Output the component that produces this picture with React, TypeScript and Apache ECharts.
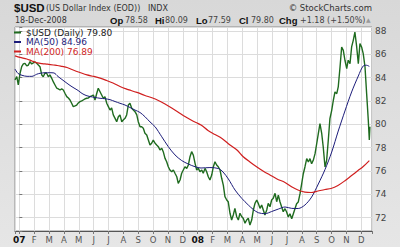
import { useEffect, useRef } from "react";
import * as echarts from "echarts";

// x = months since 1 Jan 2007 (fractional), y = index value
const priceT = [-0.29,-0.17,-0.07,0.05,0.16,0.27,0.38,0.50,0.61,0.72,0.83,0.94,1.06,1.17,1.28,1.39,1.51,1.61,1.73,1.84,1.95,2.06,2.18,2.29,2.40,2.52,2.62,2.74,2.85,2.96,3.07,3.19,3.30,3.41,3.52,3.63,3.75,3.86,3.97,4.08,4.20,4.30,4.42,4.53,4.64,4.75,4.87,4.98,5.09,5.21,5.31,5.43,5.54,5.65,5.76,5.88,5.99,6.10,6.21,6.32,6.44,6.55,6.66,6.77,6.89,6.99,7.11,7.22,7.33,7.44,7.56,7.67,7.78,7.90,8.00,8.12,8.23,8.34,8.45,8.57,8.68,8.79,8.90,9.01,9.13,9.24,9.35,9.46,9.58,9.68,9.80,9.91,10.02,10.13,10.25,10.36,10.47,10.59,10.69,10.81,10.92,11.03,11.14,11.26,11.37,11.48,11.59,11.70,11.82,11.93,12.04,12.15,12.27,12.37,12.49,12.60,12.71,12.82,12.94,13.05,13.16,13.27,13.38,13.50,13.61,13.72,13.83,13.95,14.05,14.17,14.28,14.39,14.50,14.62,14.73,14.84,14.96,15.06,15.18,15.29,15.40,15.51,15.63,15.74,15.85,15.97,16.07,16.19,16.30,16.41,16.52,16.64,16.74,16.86,16.97,17.08,17.20,17.31,17.42,17.53,17.64,17.75,17.87,17.98,18.09,18.20,18.32,18.43,18.54,18.65,18.76,18.88,18.99,19.10,19.21,19.33,19.44,19.55,19.66,19.77,19.89,20.00,20.11,20.22,20.34,20.44,20.56,20.67,20.78,20.89,21.01,21.12,21.23,21.35,21.45,21.57,21.68,21.79,21.90,22.02,22.12,22.24,22.35,22.46,22.57,22.69,22.80,22.91,23.02,23.13,23.25,23.36,23.47,23.54,23.58];
const priceV = [83.80,84.08,83.37,84.37,84.94,85.17,85.23,85.00,85.08,85.37,
85.17,85.26,85.34,85.23,85.08,84.94,84.23,84.08,84.40,84.37,
84.08,84.23,83.94,83.63,83.37,83.09,83.03,82.94,83.03,82.94,
82.66,82.37,82.25,82.08,81.80,81.51,81.57,81.65,81.83,81.94,
82.00,82.08,82.17,82.23,82.25,82.37,82.43,82.51,82.08,82.66,
83.09,82.79,82.51,82.23,82.37,
81.80,81.51,81.22,81.40,80.80,80.51,80.22,80.65,80.80,80.22,
80.37,80.51,80.80,81.65,81.80,81.37,81.22,81.08,80.80,80.22,
79.79,79.79,79.66,79.23,79.08,78.65,78.22,78.37,78.65,78.37,
78.22,78.08,77.79,77.94,77.65,77.08,76.79,76.36,76.08,75.93,
76.08,75.80,75.50,74.94,75.22,75.80,76.08,76.36,76.22,76.51,
77.22,77.65,77.37,76.65,76.08,76.22,75.93,76.08,75.80,76.22,
75.93,75.50,75.22,75.65,76.36,76.79,76.51,76.36,76.08,75.37,
74.79,73.79,73.51,73.36,72.37,71.79,72.22,72.79,72.07,71.79,
72.37,72.07,71.94,71.51,71.79,71.94,71.36,71.79,72.65,73.22,
73.51,73.22,72.79,73.08,72.65,72.22,72.65,73.22,72.93,73.51,
73.65,74.08,73.36,73.93,73.36,72.93,72.50,72.76,72.48,72.05,
72.33,71.90,72.33,72.76,73.19,73.33,74.05,74.90,75.76,76.34,
77.05,76.77,77.05,76.62,76.91,77.48,78.33,79.19,80.05,79.19,
78.05,76.34,76.91,78.63,80.48,81.20,82.06,82.77,82.62,83.20,
84.91,86.63,86.34,85.49,84.77,85.49,85.20,86.63,87.20,87.91,
86.63,85.20,86.91,86.63,86.05,84.91,82.62,80.37,78.65,79.80];

const ma50T = [-0.29,-0.09,0.18,0.52,0.85,1.17,1.39,1.73,2.06,2.33,2.60,2.87,3.14,3.41,3.68,3.95,4.22,4.49,4.75,5.09,5.43,5.76,6.10,6.44,6.77,7.11,7.44,7.78,8.12,8.45,8.79,9.13,9.58,10.02,10.47,10.92,11.37,11.82,12.22,12.82,13.38,13.70,14.06,14.51,14.96,15.40,15.74,16.07,16.52,16.97,17.42,17.87,18.32,18.76,19.21,19.66,20.11,20.56,21.01,21.45,21.90,22.35,22.80,23.13,23.36,23.54];
const ma50V = [84.74,84.36,84.20,84.11,84.11,84.29,84.37,84.42,84.42,84.40,84.10,83.84,83.58,83.33,83.11,82.90,82.64,82.47,82.38,82.30,82.23,82.19,82.11,81.95,81.80,81.65,81.44,81.22,81.01,80.65,80.20,79.79,78.93,78.08,77.37,76.89,76.59,76.36,76.25,76.29,76.21,75.91,75.31,74.36,73.65,73.08,72.69,72.42,72.33,72.52,72.73,72.91,72.79,72.78,73.08,73.76,74.88,76.12,77.62,79.42,81.14,82.77,84.14,85.00,85.06,84.96];

const ma200T = [-0.29,0.05,0.50,0.85,1.21,1.53,1.88,2.29,2.56,2.87,3.21,3.54,4.08,4.55,5.02,5.49,5.88,6.30,6.77,7.18,7.51,7.91,8.45,8.92,9.35,9.80,10.25,10.67,11.14,11.55,11.88,12.22,12.69,13.16,13.63,14.17,14.64,15.04,15.51,15.98,16.39,16.86,17.33,17.87,18.34,18.74,19.21,19.62,20.09,20.56,20.96,21.43,21.90,22.35,22.80,23.13,23.54];
const ma200V = [85.86,85.73,85.60,85.43,85.27,85.20,85.15,85.08,85.04,84.96,84.87,84.70,84.44,84.23,84.10,83.93,83.75,83.54,83.24,83.03,82.90,82.73,82.47,82.27,82.04,81.74,81.40,81.06,80.67,80.37,80.15,79.94,79.47,79.12,78.78,78.22,77.79,77.24,76.77,76.34,76.00,75.65,75.31,75.01,74.62,74.36,74.19,74.15,74.28,74.41,74.49,74.75,75.16,75.61,76.05,76.38,76.89];

const monthLabels = ["07","F","M","A","M","J","J","A","S","O","N","D","08","F","M","A","M","J","J","A","S","O","N","D"];
const yearLabelIdx = [0, 12];

const seriesNames = ["$USD (Daily)", "MA(50)", "MA(200)"];
const lastValues = ["79.80", "84.96", "76.89"];
const seriesColors = ["#1f6b1f", "#1c1c7a", "#d01f1f"];

const titleMain = "$USD";
const titleDesc = "(US Dollar Index (EOD))";
const titleExch = "INDX";
const dateText = "18-Dec-2008";
const quoteLabels = ["Op", "Hi", "Lo", "Cl", "Chg"];
const quoteValues = ["78.58", "80.09", "77.59", "79.80", "+1.18 (+1.50%)"];
const credit = "\u00A9 StockCharts.com";

const FONT = "DejaVu Sans";

function isNear(v: number, n: number) {
  return Math.abs(v - n) < 1e-6;
}

export default function App() {
  const ref = useRef<HTMLDivElement>(null);
  useEffect(() => {
    const chart = echarts.init(ref.current!, null, { renderer: "svg" });
    const labelX = [110, 155, 196, 239, 279];
    const valueX = [125, 165, 208, 251, 300];
    const quoteGraphics: any[] = [];
    quoteLabels.forEach((l, i) => {
      quoteGraphics.push({
        type: "text", x: labelX[i], y: 20,
        style: { text: l, fontFamily: "Liberation Sans", fontSize: 9.5, fontWeight: "bold", fill: "#111", verticalAlign: "middle" },
      });
      quoteGraphics.push({
        type: "text", x: valueX[i], y: 20,
        style: { text: quoteValues[i], fontFamily: FONT, fontSize: 8, fill: "#444", verticalAlign: "middle" },
      });
    });
    const option: any = {
      animation: false,
      backgroundColor: new echarts.graphic.LinearGradient(0, 0, 0, 1, [
        { offset: 0, color: "#d8d8d8" },
        { offset: 1, color: "#e6e6e6" },
      ]),
      grid: {
        left: 15, right: 28, top: 27, bottom: 16,
        show: true, backgroundColor: "#ffffff", borderColor: "#8c8c8c", borderWidth: 1,
      },
      legend: {
        orient: "vertical", left: 14, top: 28, padding: 0, itemGap: 0.5,
        itemWidth: 7, itemHeight: 2, icon: "rect",
        textStyle: { fontFamily: FONT, fontSize: 9, lineHeight: 9 },
        data: seriesNames.map((n, i) => ({ name: n, textStyle: { color: i === 0 ? "#222" : seriesColors[i] } })),
        formatter: (name: string) => name + " " + lastValues[seriesNames.indexOf(name)],
      },
      xAxis: {
        type: "value", min: -0.29, max: 23.72, splitNumber: 24, minInterval: 1, maxInterval: 1,
        axisLine: { show: true, lineStyle: { color: "#555", width: 1 } },
        axisTick: { show: true, length: 3, lineStyle: { color: "#777" } },
        splitLine: { show: true, lineStyle: { color: "#dcdcdc", width: 1 } },
        axisLabel: {
          margin: 4, fontFamily: FONT, fontSize: 8.5, color: "#555",
          formatter: (v: number) => {
            const r = Math.round(v);
            if (!isNear(v, r) || r < 0 || r >= monthLabels.length) return "";
            return yearLabelIdx.includes(r) ? "{y|" + monthLabels[r] + "}" : monthLabels[r];
          },
          rich: { y: { fontFamily: FONT, fontSize: 9, fontWeight: "bold", color: "#111" } },
        },
      },
      yAxis: {
        type: "value", position: "right", min: 70.85, max: 88.34, splitNumber: 9, minInterval: 2, maxInterval: 2,
        axisLine: { show: false },
        axisTick: { show: true, length: 3, lineStyle: { color: "#777" } },
        splitLine: { show: true, lineStyle: { color: "#dcdcdc", width: 1 } },
        axisLabel: {
          margin: 3, fontFamily: FONT, fontSize: 9, color: "#444",
          formatter: (v: number) => {
            const r = Math.round(v);
            return isNear(v, r) && r % 2 === 0 ? String(r) : "";
          },
        },
      },
      series: [
        {
          type: "line", name: seriesNames[0], showSymbol: false, symbol: "none", z: 3,
          data: priceT.map((t, i) => [t, priceV[i]]),
          lineStyle: { color: seriesColors[0], width: 1.4 }, itemStyle: { color: seriesColors[0] },
        },
        {
          type: "line", name: seriesNames[1], showSymbol: false, symbol: "none", smooth: 0.3, z: 4,
          data: ma50T.map((t, i) => [t, ma50V[i]]),
          lineStyle: { color: seriesColors[1], width: 1 }, itemStyle: { color: seriesColors[1] },
        },
        {
          type: "line", name: seriesNames[2], showSymbol: false, symbol: "none", smooth: 0.3, z: 4,
          data: ma200T.map((t, i) => [t, ma200V[i]]),
          lineStyle: { color: seriesColors[2], width: 1.2 }, itemStyle: { color: seriesColors[2] },
        },
      ],
      graphic: [
        { type: "text", x: 14, y: 8, style: { text: titleMain, fontFamily: "Liberation Sans", fontSize: 11.5, fontWeight: "bold", fill: "#111", verticalAlign: "middle" } },
        { type: "text", x: 46, y: 8.5, style: { text: titleDesc, fontFamily: FONT, fontSize: 8, fill: "#333", verticalAlign: "middle" } },
        { type: "text", x: 148, y: 8.5, style: { text: titleExch, fontFamily: FONT, fontSize: 8, fill: "#333", verticalAlign: "middle" } },
        { type: "text", x: 15, y: 20, style: { text: dateText, fontFamily: FONT, fontSize: 8, fill: "#333", verticalAlign: "middle" } },
        ...quoteGraphics,
        { type: "text", x: 366, y: 19.5, style: { text: "\u25B2", fontFamily: FONT, fontSize: 6, fill: "#999", verticalAlign: "middle" } },
        { type: "text", x: 372, y: 8, style: { text: credit, fontFamily: FONT, fontSize: 8.5, fill: "#333", align: "right", verticalAlign: "middle" } },
      ],
    };
    chart.setOption(option);
    return () => chart.dispose();
  }, []);
  return <div ref={ref} style={{ position: "fixed", left: 0, top: 0, width: 400, height: 247 }} />;
}
